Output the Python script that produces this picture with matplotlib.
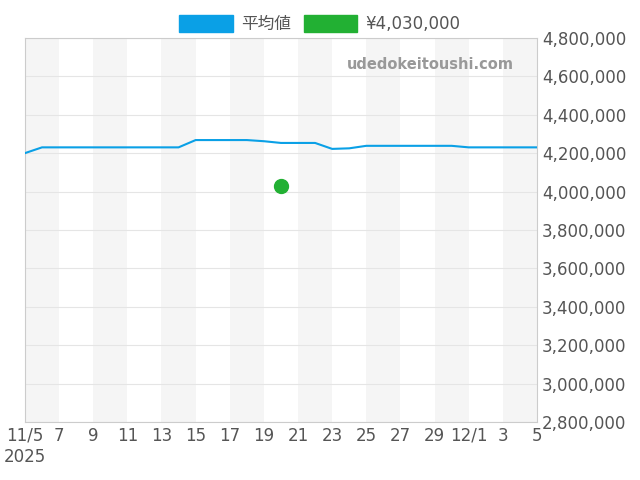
import matplotlib
matplotlib.use("Agg")
import matplotlib.pyplot as plt
import matplotlib.ticker as mticker
import datetime as dt
from matplotlib.patches import Patch

plt.rcParams['font.family'] = ['DejaVu Sans', 'Noto Sans CJK JP']

start = dt.date(2025, 11, 5)
avg_values = [4200000, 4230000, 4230000, 4230000, 4230000, 4230000, 4230000, 4230000, 4230000, 4230000,
              4268000, 4268000, 4268000, 4268000, 4262000, 4253000, 4253000, 4253000, 4222000, 4225000,
              4238000, 4238000, 4238000, 4238000, 4238000, 4238000, 4230000, 4230000, 4230000, 4230000, 4230000]
dates = [start + dt.timedelta(days=i) for i in range(len(avg_values))]
point_date = [dt.date(2025, 11, 20)]
point_value = [4030000]
tick_labels = ["11/5\n2025", "7", "9", "11", "13", "15", "17", "19", "21", "23", "25", "27", "29", "12/1", "3", "5"]

fig, ax = plt.subplots(figsize=(6.4, 4.8), dpi=100)
fig.subplots_adjust(left=0.039, right=0.839, top=0.921, bottom=0.121)

for i in range(0, 30, 4):
    ax.axvspan(dates[i], dates[i + 2], color='#f5f5f5', zorder=0, lw=0)

ax.plot(dates, avg_values, color='#0aa0e6', lw=1.5, zorder=3)
ax.scatter(point_date, point_value, color='#22b033', s=100, zorder=4)

ax.set_xlim(dates[0], dates[-1])
ax.set_ylim(2800000, 4800000)
ax.yaxis.tick_right()
ax.yaxis.set_major_locator(mticker.MultipleLocator(200000))
ax.yaxis.set_major_formatter(mticker.FuncFormatter(lambda v, p: f"{int(v):,}"))
ax.set_xticks([dates[i] for i in range(0, 31, 2)])
ax.set_xticklabels(tick_labels)
ax.tick_params(labelsize=12, colors='#555555', length=0)
ax.grid(axis='y', color='#e5e5e5', lw=0.8)
for s in ax.spines.values():
    s.set_color('#cccccc')

ax.text(0.955, 0.93, "udedokeitoushi.com", transform=ax.transAxes, ha='right', va='center',
        fontsize=10.5, color='#999999', fontweight='bold')

handles = [Patch(color='#0aa0e6', label='平均値'), Patch(color='#22b033', label='¥4,030,000')]
fig.legend(handles=handles, loc='upper center', bbox_to_anchor=(0.5, 1.0), ncol=2, frameon=False,
           fontsize=12, handlelength=3.2, handleheight=1.2, handletextpad=0.5, columnspacing=0.8,
           labelcolor='#555555')

fig.savefig("out.png")
